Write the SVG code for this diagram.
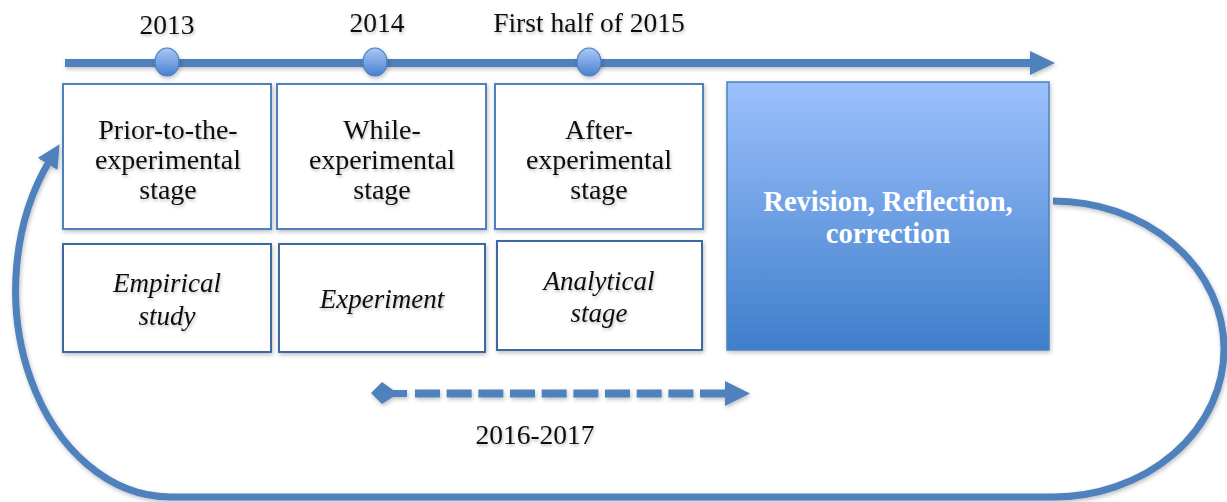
<svg xmlns="http://www.w3.org/2000/svg" width="1227" height="502" viewBox="0 0 1227 502">
<defs>
  <linearGradient id="gBig" x1="0" y1="0" x2="0" y2="1">
    <stop offset="0" stop-color="#9cc1fd"/>
    <stop offset="1" stop-color="#3f7ecb"/>
  </linearGradient>
  <linearGradient id="gDot" x1="0" y1="0" x2="0" y2="1">
    <stop offset="0" stop-color="#a9c8f7"/>
    <stop offset="1" stop-color="#4a80d0"/>
  </linearGradient>
  <filter id="sh" x="-10%" y="-10%" width="130%" height="130%">
    <feDropShadow dx="1" dy="2" stdDeviation="2" flood-color="#000" flood-opacity="0.25"/>
  </filter>
  <filter id="tsh" x="-10%" y="-20%" width="130%" height="150%">
    <feDropShadow dx="1" dy="2" stdDeviation="1.5" flood-color="#000" flood-opacity="0.25"/>
  </filter>
  <marker id="loopHead" viewBox="0 0 10 10" refX="2" refY="5" markerWidth="3.3" markerHeight="3.3" orient="auto" markerUnits="strokeWidth">
    <path d="M0,0 L10,5 L0,10 z" fill="#4f81bd"/>
  </marker>
</defs>
<style>
  .box { fill: #ffffff; stroke: #4f81bd; stroke-width: 2; filter: url(#sh); }
  .box2 { fill: #ffffff; stroke: #3e68a3; stroke-width: 2; filter: url(#sh); }
  .lbl { font-family: "Liberation Serif", "Times New Roman", serif; font-size: 28px; fill: #111; text-anchor: middle; filter: url(#tsh); }
  .it { font-style: italic; font-size: 27px; }
  .big { font-family: "Liberation Serif", "Times New Roman", serif; font-size: 28.5px; font-weight: bold; fill: #ffffff; text-anchor: middle; }
  .yr { font-family: "Liberation Serif", "Times New Roman", serif; font-size: 27.5px; fill: #111; text-anchor: middle; filter: url(#tsh); }
  .conn { stroke: #4f81bd; fill: none; }
  .dot { fill: url(#gDot); stroke: #4a7ebb; stroke-width: 1.2; filter: url(#sh); }
</style>

<g id="connectors" filter="url(#sh)">
  <line class="conn" x1="65" y1="63" x2="1032" y2="63" stroke-width="8"/>
  <polygon points="1030,51 1055,63 1030,75" fill="#4f81bd"/>
  <path class="conn" stroke-width="7" d="M1053,201 A171,148 0 0 1 1053,497 L170,497 A155,207 0 0 1 50,160" marker-end="url(#loopHead)"/>
  <polygon points="371,393 382,382 393,390 407,390 407,397 393,397 382,404" fill="#4f81bd"/>
  <line class="conn" x1="415" y1="393.5" x2="728" y2="393.5" stroke-width="8" stroke-dasharray="25 6.67"/>
  <polygon points="725,381 750,393.5 725,406" fill="#4f81bd"/>
</g>

<g id="timeline-labels">
  <text class="yr" x="167" y="34">2013</text>
  <text class="yr" x="377" y="32">2014</text>
  <text class="yr" x="589" y="32">First half of 2015</text>
  <text class="yr" x="535" y="444">2016-2017</text>
</g>

<g id="dot-2013"><ellipse class="dot" cx="167" cy="62" rx="12" ry="14"/></g>
<g id="dot-2014"><ellipse class="dot" cx="375" cy="62" rx="12" ry="14"/></g>
<g id="dot-2015"><ellipse class="dot" cx="589" cy="62" rx="12" ry="14"/></g>

<g id="node-prior">
  <rect class="box" x="63" y="84" width="208" height="145"/>
  <text class="lbl" x="168" y="139">Prior-to-the-</text>
  <text class="lbl" x="168" y="169">experimental</text>
  <text class="lbl" x="168" y="199">stage</text>
</g>
<g id="node-while">
  <rect class="box" x="277" y="84" width="209" height="145"/>
  <text class="lbl" x="382" y="139">While-</text>
  <text class="lbl" x="382" y="169">experimental</text>
  <text class="lbl" x="382" y="199">stage</text>
</g>
<g id="node-after">
  <rect class="box" x="495" y="84" width="208" height="145"/>
  <text class="lbl" x="599" y="139">After-</text>
  <text class="lbl" x="599" y="169">experimental</text>
  <text class="lbl" x="599" y="199">stage</text>
</g>
<g id="node-empirical">
  <rect class="box2" x="63" y="244" width="208" height="108"/>
  <text class="lbl it" x="167" y="292">Empirical</text>
  <text class="lbl it" x="167" y="325">study</text>
</g>
<g id="node-experiment">
  <rect class="box2" x="279" y="244" width="206" height="108"/>
  <text class="lbl it" x="382" y="308">Experiment</text>
</g>
<g id="node-analytical">
  <rect class="box2" x="497" y="241" width="205" height="109"/>
  <text class="lbl it" x="599" y="290">Analytical</text>
  <text class="lbl it" x="599" y="322">stage</text>
</g>
<g id="node-revision">
  <rect x="727" y="82" width="322" height="268" fill="url(#gBig)" stroke="#4f81bd" stroke-width="1.5" filter="url(#sh)"/>
  <text class="big" x="888" y="211">Revision, Reflection,</text>
  <text class="big" x="888" y="243">correction</text>
</g>
</svg>
